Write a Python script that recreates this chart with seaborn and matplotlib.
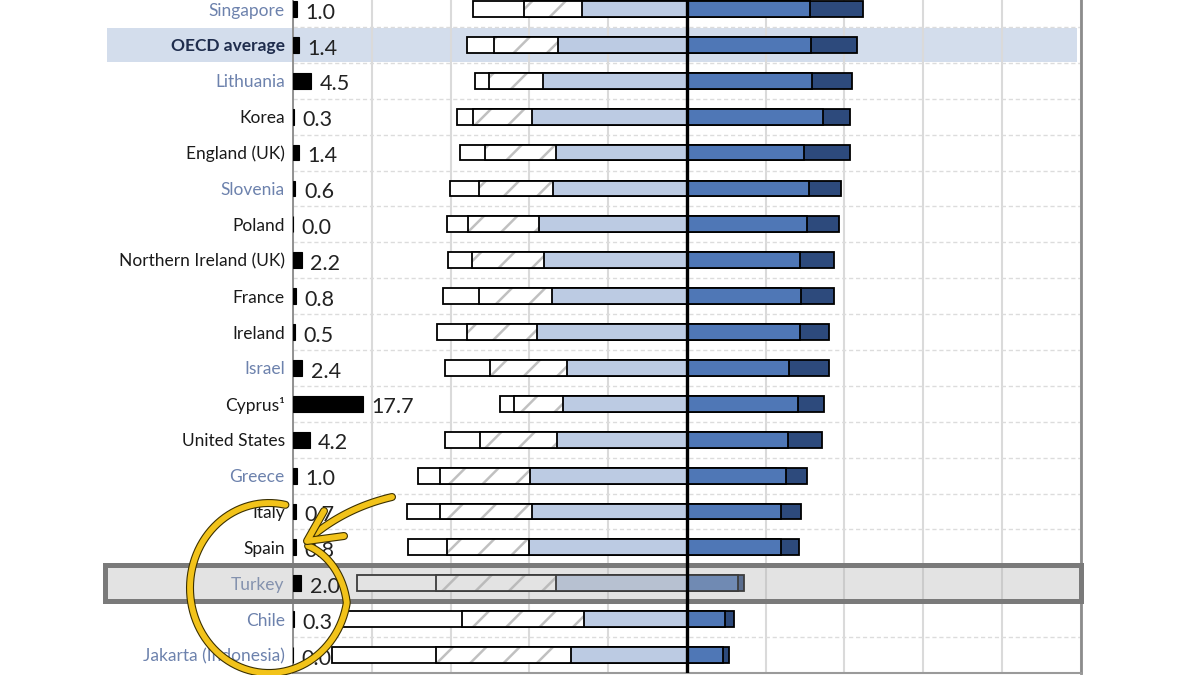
import numpy as np
import pandas as pd
import matplotlib
matplotlib.use('Agg')
import matplotlib.pyplot as plt
import matplotlib.transforms as mtransforms
import matplotlib.patheffects as pe
from matplotlib.patches import Rectangle
from matplotlib.lines import Line2D
import seaborn as sns

# Chart values (percentages), rows listed top to bottom
countries = ["Singapore", "OECD average", "Lithuania", "Korea", "England (UK)", "Slovenia",
             "Poland", "Northern Ireland (UK)", "France", "Ireland", "Israel", "Cyprus\u00b9",
             "United States", "Greece", "Italy", "Spain", "Turkey", "Chile", "Jakarta (Indonesia)"]
missing = [1.0, 1.4, 4.5, 0.3, 1.4, 0.6, 0.0, 2.2, 0.8, 0.5, 2.4, 17.7, 4.2, 1.0, 0.7, 0.8, 2.0, 0.3, 0.0]
white_seg = [12.9, 6.9, 3.6, 4.1, 6.3, 7.4, 5.3, 6.1, 9.0, 7.6, 11.4, 3.6, 8.9, 5.6, 8.2, 9.8, 20.1, 30.2, 26.4]
hatch_seg = [14.7, 16.2, 13.7, 15.0, 18.0, 18.8, 18.0, 18.3, 18.7, 17.8, 19.6, 12.4, 19.6, 22.9, 23.5, 20.9, 30.3, 31.0, 34.1]
light_seg = [26.6, 32.7, 36.5, 39.3, 33.2, 34.0, 37.6, 36.2, 34.2, 38.1, 30.4, 31.5, 32.9, 39.7, 39.3, 40.1, 33.3, 26.1, 29.5]
medium_seg = [31.2, 31.5, 31.7, 34.5, 29.7, 31.0, 30.5, 28.7, 28.9, 28.7, 25.9, 28.2, 25.7, 25.1, 24.0, 24.0, 13.0, 9.7, 9.1]
dark_seg = [13.5, 11.7, 10.2, 6.9, 11.7, 8.1, 8.1, 8.7, 8.5, 7.4, 10.2, 6.6, 8.7, 5.5, 4.9, 4.4, 1.4, 2.2, 1.5]
blue_labels = ["Singapore", "Lithuania", "Slovenia", "Israel", "Greece", "Turkey", "Chile", "Jakarta (Indonesia)"]

df = pd.DataFrame({'country': countries, 'white': white_seg, 'hatch': hatch_seg,
                   'light': light_seg, 'medium': medium_seg, 'dark': dark_seg})
df['left3'] = -(df['white'] + df['hatch'] + df['light'])
df['left2'] = -(df['hatch'] + df['light'])
df['left1'] = -df['light']
df['right2'] = df['medium'] + df['dark']

sns.set_theme(style='white')
plt.rcParams['font.family'] = ['Lato', 'DejaVu Sans']
plt.rcParams['hatch.linewidth'] = 1.8

fig = plt.figure(figsize=(12, 6.75), dpi=100)
ax = fig.add_axes([293 / 1200, 2 / 675, 787.7 / 1200, 681.9 / 675])

bw = 0.44
lw = 1.3
common = dict(data=df, y='country', orient='h', width=bw, saturation=1, errorbar=None, ax=ax, zorder=2)
sns.barplot(x='left3', color='white', edgecolor='black', linewidth=lw, **common)
sns.barplot(x='left2', color='white', edgecolor='#c0c0c0', linewidth=0, hatch='/', **common)
sns.barplot(x='left2', color='black', fill=False, linewidth=lw, **common)
sns.barplot(x='left1', color='#bccbe3', edgecolor='black', linewidth=lw, **common)
sns.barplot(x='right2', color='#2d4a7c', edgecolor='black', linewidth=lw, **common)
sns.barplot(x='medium', color='#4f77b6', edgecolor='black', linewidth=lw, **common)

rows = np.arange(len(countries))
# missing share drawn from the left edge of the scale
ax.barh(rows, missing, left=-100, height=bw, color='black', edgecolor='black', linewidth=0.8, zorder=3)
for i, m in enumerate(missing):
    ax.text(-100 + m + 2.2, i + 0.1, f"{m:.1f}", ha='left', va='center',
            fontsize=15.5, color='#222222', zorder=5)

ax.axvline(0, color='black', lw=2.4, zorder=4)

ax.set_xlim(-100, 100)
ax.set_ylim(len(countries) - 0.5, -0.5)
ax.set_xticks(np.arange(-100, 101, 20))
ax.set_yticks(rows)
ax.set_yticklabels(countries, fontsize=12.5)
ax.set_yticks(np.arange(0.5, len(countries) - 0.5, 1), minor=True)
ax.tick_params(axis='x', length=0, labelbottom=False)
ax.tick_params(axis='y', which='both', length=0, pad=6)
ax.set_xlabel('')
ax.set_ylabel('')
ax.set_axisbelow(True)
ax.grid(axis='x', color='#dadada', lw=1.5)
ax.grid(axis='y', which='major', visible=False)
ax.grid(axis='y', which='minor', color='#dcdcdc', lw=1, ls=(0, (3, 2)))

for lab in ax.get_yticklabels():
    t = lab.get_text()
    if t == "OECD average":
        lab.set_color('#1f2d4d')
        lab.set_fontweight('bold')
    elif t in blue_labels:
        lab.set_color('#6d82ad')
    else:
        lab.set_color('#1a1a1a')

ax.spines['top'].set_visible(False)
ax.spines['left'].set_color('#8a8a8a')
ax.spines['left'].set_linewidth(1.3)
ax.spines['right'].set_color('#8c8c8c')
ax.spines['right'].set_linewidth(2)
ax.spines['bottom'].set_color('#9a9a9a')
ax.spines['bottom'].set_linewidth(1.5)

# highlighted rows
oecd_i = countries.index("OECD average")
ax.add_patch(Rectangle((-147.2, oecd_i - 0.47), 246.2, 0.94, facecolor='#d3ddec',
                       edgecolor='none', zorder=0.3, clip_on=False))
tur_i = countries.index("Turkey")
ax.add_patch(Rectangle((-147.7, tur_i - 0.5), 247.7, 1.0, facecolor=(0.69, 0.69, 0.69, 0.35),
                       edgecolor='none', zorder=2.5, clip_on=False))
ax.add_patch(Rectangle((-147.7, tur_i - 0.5), 247.7, 1.0, fill=False, edgecolor='#7a7a7a',
                       lw=3.6, zorder=2.6, clip_on=False))

# hand-drawn yellow circle and arrow (figure pixel coords)
tr = mtransforms.Affine2D().scale(1 / 1200, -1 / 675).translate(0, 1) + fig.transFigure
stroke = dict(color='#f2c31a', lw=4.2, solid_capstyle='round', solid_joinstyle='round',
              transform=tr, zorder=10,
              path_effects=[pe.Stroke(linewidth=5.8, foreground='#3b3000'), pe.Normal()])
t = np.radians(np.linspace(78, 405, 300))
s = np.where(np.degrees(t) < 350, 1.0, 1.0 - 0.3 * (np.degrees(t) - 350) / 55)
cx, cy, rx, ry = 269, 588, 79, 85
fig.add_artist(Line2D(cx + rx * np.cos(t) * s, cy - ry * np.sin(t) * s, **stroke))
u = np.linspace(0, 1, 50)
p0, p1, p2 = np.array([392, 497]), np.array([345, 508]), np.array([310, 538])
shaft = ((1 - u) ** 2)[:, None] * p0 + (2 * u * (1 - u))[:, None] * p1 + (u ** 2)[:, None] * p2
fig.add_artist(Line2D(shaft[:, 0], shaft[:, 1], **stroke))
fig.add_artist(Line2D([324, 307, 344], [511, 541, 536], **stroke))

fig.savefig('out.png', dpi=100)
